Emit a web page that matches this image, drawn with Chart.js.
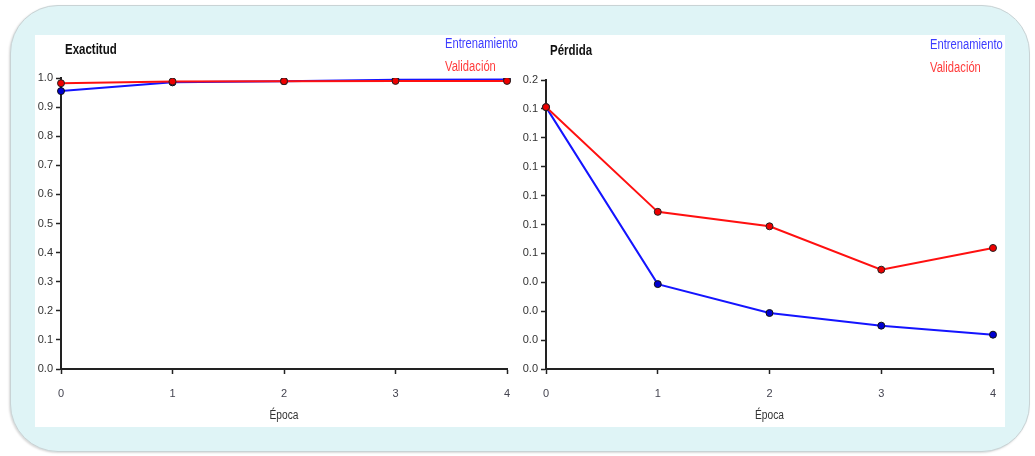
<!DOCTYPE html>
<html lang="es">
<head>
  <meta charset="UTF-8" />
  <title>Exactitud y Pérdida</title>
  <script src="https://cdn.jsdelivr.net/npm/chart.js"></script>
  <style>
    html, body { margin: 0; padding: 0; background: #fff; width: 1035px; height: 456px; overflow: hidden; }
    .frame {
      position: absolute; left: 10px; top: 5px; width: 1018px; height: 445px;
      background: #dff4f6; border: 1px solid #c9d3d5; border-radius: 48px;
      box-shadow: -1px 1px 2px rgba(0,0,0,0.15);
    }
    .panel { position: absolute; left: 35px; top: 35px; width: 970px; height: 392px; background: #fff; }
    .panel canvas { position: absolute; top: 0; }
    #accChart { left: 0; }
    #lossChart { left: 485px; }
  </style>
</head>
<body>
  <div class="frame"></div>
  <div class="panel">
    <canvas id="accChart" width="485" height="392"></canvas>
    <canvas id="lossChart" width="485" height="392"></canvas>
  </div>

  <script>
    const FONT = "'Liberation Sans', Arial, sans-serif";

    const epochs = ['0', '1', '2', '3', '4'];
    const accTrain = [0.955, 0.985, 0.989, 0.994, 0.995];
    const accVal = [0.982, 0.988, 0.989, 0.990, 0.990];
    const lossTrain = [0.145, 0.047, 0.031, 0.024, 0.019];
    const lossVal = [0.145, 0.087, 0.079, 0.055, 0.067];
    const accTicks = [0, 0.1, 0.2, 0.3, 0.4, 0.5, 0.6, 0.7, 0.8, 0.9, 1.0];
    const lossTicks = [0, 0.016, 0.032, 0.048, 0.064, 0.08, 0.096, 0.112, 0.128, 0.144, 0.16];
    const seriesNames = ['Entrenamiento', 'Validación'];

    const BLUE = '#1414ff', RED = '#ff1010';

    // the original uses a condensed face; squeeze the text horizontally
    function narrowText(ctx, text, x, y, align, sx) {
      ctx.save();
      ctx.translate(x, y);
      ctx.scale(sx, 1);
      ctx.textAlign = align;
      ctx.fillText(text, 0, 0);
      ctx.restore();
    }

    // titles, text legend and axis title drawn on the canvas
    const labelsPlugin = {
      id: 'panelText',
      afterDraw(chart, args, opts) {
        const ctx = chart.ctx, a = chart.chartArea;
        ctx.save();
        ctx.textBaseline = 'middle';
        ctx.font = 'bold 14px ' + FONT;
        ctx.fillStyle = '#111';
        narrowText(ctx, opts.title, 30, opts.titleY, 'left', 0.82);
        ctx.font = '14px ' + FONT;
        ctx.fillStyle = '#3c3cff';
        narrowText(ctx, seriesNames[0], 410, opts.titleY - 6, 'left', 0.8);
        ctx.fillStyle = '#ff3c3c';
        narrowText(ctx, seriesNames[1], 410, opts.titleY + 17, 'left', 0.8);
        ctx.font = '12px ' + FONT;
        ctx.fillStyle = '#333';
        narrowText(ctx, 'Época', (a.left + a.right) / 2, 381, 'center', 0.85);
        ctx.restore();
      }
    };

    function makeChart(id, train, val, ticks, opt) {
      return new Chart(document.getElementById(id), {
        type: 'line',
        data: {
          labels: epochs,
          datasets: [
            { label: seriesNames[0], data: train, borderColor: BLUE, backgroundColor: '#0000d0',
              borderWidth: 2, pointRadius: 3.5, pointBorderColor: '#111', pointBorderWidth: 1, order: 1, tension: 0 },
            { label: seriesNames[1], data: val, borderColor: RED, backgroundColor: '#ee0000',
              borderWidth: 2, pointRadius: 3.5, pointBorderColor: '#222', pointBorderWidth: 1, order: 0, tension: 0 }
          ]
        },
        options: {
          responsive: false,
          animation: false,
          layout: { padding: { top: opt.top, right: opt.right, left: 0, bottom: 0 } },
          plugins: {
            legend: { display: false },
            tooltip: { enabled: false },
            panelText: { title: opt.title, titleY: opt.titleY }
          },
          scales: {
            x: {
              offset: false,
              grid: { drawOnChartArea: false, drawTicks: true, tickLength: 5, tickColor: '#222', tickWidth: 1.5 },
              border: { display: true, color: '#222', width: 2 },
              ticks: { color: '#444450', font: { family: FONT, size: 11 }, padding: 13, maxRotation: 0 },
              afterFit: s => { s.height = 58; s.paddingLeft = 0; s.paddingRight = 0; }
            },
            y: {
              min: ticks[0],
              max: ticks[ticks.length - 1],
              afterBuildTicks: s => { s.ticks = ticks.map(v => ({ value: v })); },
              grid: { drawOnChartArea: false, drawTicks: true, tickLength: 5, tickColor: '#222', tickWidth: 1.5 },
              border: { display: true, color: '#222', width: 2 },
              ticks: { color: '#333', font: { family: FONT, size: 11 }, padding: 3,
                       callback: v => Number(v).toFixed(1) },
              afterFit: s => { s.width = 26; s.paddingTop = 0; s.paddingBottom = 0; }
            }
          }
        },
        plugins: [labelsPlugin]
      });
    }

    makeChart('accChart', accTrain, accVal, accTicks, { top: 43, right: 13, title: 'Exactitud', titleY: 15 });
    makeChart('lossChart', lossTrain, lossVal, lossTicks, { top: 45, right: 12, title: 'Pérdida', titleY: 16 });
  </script>
</body>
</html>
